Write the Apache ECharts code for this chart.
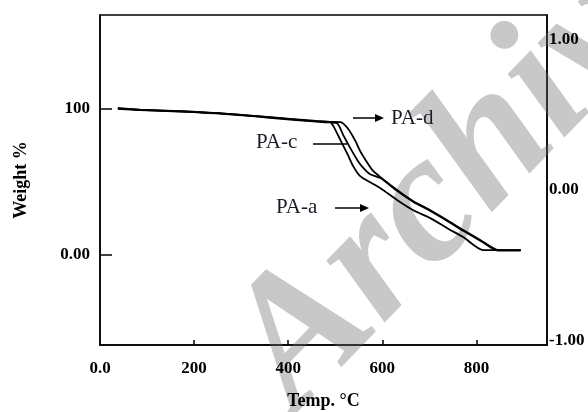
<!DOCTYPE html>
<html>
<head>
<meta charset="utf-8">
<script src="https://cdn.jsdelivr.net/npm/echarts@6/dist/echarts.min.js"></script>
<style>
  html, body { margin: 0; padding: 0; background: #fff; }
  #chart { width: 588px; height: 412px; }
</style>
</head>
<body>
<div id="chart"></div>
<script>
// TGA curves (temp in °C, weight in %)
const tempA = [38, 85, 170, 255, 355, 453, 489, 496, 511, 526, 538, 553, 574, 596, 632, 666, 702, 738, 772, 815, 894]
const weightA = [100.2, 99.2, 98.2, 96.8, 94.0, 91.3, 90.6, 87.9, 78.3, 68.7, 60.5, 53.6, 49.5, 45.4, 37.2, 30.3, 24.9, 18.0, 11.9, 3.0, 3.0]

const tempC = [38, 85, 170, 255, 355, 453, 489, 504, 517, 532, 547, 560, 574, 596, 632, 666, 702, 738, 772, 809, 847, 894]
const weightC = [99.8, 98.9, 97.9, 96.5, 93.8, 91.1, 90.4, 89.9, 81.7, 72.8, 64.6, 59.1, 55.0, 52.3, 43.4, 36.0, 29.8, 23.0, 16.2, 9.3, 2.6, 2.6]

const tempD = [38, 85, 170, 255, 355, 453, 489, 511, 528, 543, 553, 566, 579, 596, 632, 666, 702, 738, 772, 809, 847, 894]
const weightD = [100.0, 99.0, 98.0, 96.6, 94.2, 91.6, 90.8, 90.6, 85.8, 77.6, 70.8, 63.9, 57.7, 52.9, 44.0, 36.5, 30.3, 23.5, 16.7, 9.8, 3.0, 3.0]

const xTicks = [0, 200, 400, 600, 800]
const leftTicks = [0, 100]
const rightTicks = [-1, 0, 1]

const pairs = (xs, ys) => xs.map((x, i) => [x, ys[i]])

const chart = echarts.init(document.getElementById('chart'))

const tickFont = {
  fontFamily: 'Liberation Serif',
  fontWeight: 'bold',
  fontSize: 17,
  color: '#000'
}

const lineSeries = (name, data) => ({
  name,
  type: 'line',
  data,
  showSymbol: false,
  smooth: 0.25,
  lineStyle: { color: '#000', width: 1.8 },
  z: 3
})

const labelStyle = (text, x, y) => ({
  type: 'text',
  x,
  y,
  style: {
    text,
    fontFamily: 'Liberation Serif',
    fontSize: 21,
    fill: '#1c1c28',
    verticalAlign: 'middle'
  },
  z: 10
})

const arrowLine = (x1, x2, y, head) => {
  const els = [{
    type: 'line',
    shape: { x1, y1: y, x2, y2: y },
    style: { stroke: '#000', lineWidth: 1.5 },
    z: 10
  }]
  if (head) {
    els.push({
      type: 'polygon',
      shape: { points: [[x2 + 2, y], [x2 - 7, y - 4], [x2 - 7, y + 4]] },
      style: { fill: '#000' },
      z: 10
    })
  }
  return els
}

const option = {
  animation: false,
  grid: {
    left: 100,
    right: 41,
    top: 15,
    bottom: 67,
    outerBoundsMode: 'none',
    containLabel: false,
    show: true,
    borderColor: '#000',
    borderWidth: 1.5
  },
  xAxis: {
    type: 'value',
    min: 0,
    max: 950,
    interval: 200,
    name: 'Temp. °C',
    nameLocation: 'middle',
    nameGap: 47,
    nameTextStyle: { ...tickFont, fontSize: 18 },
    axisLine: { onZero: false, lineStyle: { color: '#000', width: 1.5 } },
    axisTick: { inside: true, length: 5, customValues: xTicks.slice(1), lineStyle: { color: '#000', width: 1.5 } },
    axisLabel: {
      ...tickFont,
      margin: 15,
      customValues: xTicks,
      formatter: v => (v === 0 ? '0.0' : String(v))
    },
    splitLine: { show: false }
  },
  yAxis: [
    {
      type: 'value',
      min: -62,
      max: 164,
      name: 'Weight %',
      nameLocation: 'middle',
      nameRotate: 90,
      nameGap: 70,
      nameTextStyle: { ...tickFont, fontSize: 18 },
      axisLine: { show: true, onZero: false, lineStyle: { color: '#000', width: 1.5 } },
      axisTick: { inside: true, length: 12, customValues: leftTicks, lineStyle: { color: '#000', width: 1.5 } },
      axisLabel: {
        ...tickFont,
        margin: 10,
        customValues: leftTicks,
        formatter: v => (v === 0 ? '0.00' : String(v))
      },
      splitLine: { show: false }
    },
    {
      type: 'value',
      position: 'right',
      min: -1.03,
      max: 1.16,
      axisLine: { show: true, onZero: false, lineStyle: { color: '#000', width: 1.5 } },
      axisTick: { show: false },
      axisLabel: {
        ...tickFont,
        margin: 2,
        customValues: rightTicks,
        formatter: v => v.toFixed(2)
      },
      splitLine: { show: false }
    }
  ],
  series: [
    lineSeries('PA-a', pairs(tempA, weightA)),
    lineSeries('PA-c', pairs(tempC, weightC)),
    lineSeries('PA-d', pairs(tempD, weightD))
  ],
  graphic: [
    {
      type: 'text',
      x: 328,
      y: 445,
      rotation: 0.8,
      style: {
        text: 'Archive',
        font: 'italic bold 185px "Liberation Serif"',
        fill: '#c8c8c8',
        verticalAlign: 'bottom'
      },
      z: 0,
      silent: true
    },
    labelStyle('PA-d', 391, 118),
    labelStyle('PA-c', 256, 142),
    labelStyle('PA-a', 276, 207),
    ...arrowLine(353, 382, 118, true),
    ...arrowLine(313, 347, 144, false),
    ...arrowLine(335, 367, 208, true)
  ]
}

chart.setOption(option)
</script>
</body>
</html>
